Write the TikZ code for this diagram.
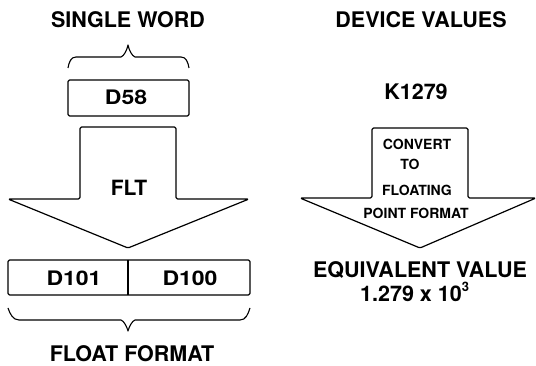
\documentclass[tikz,border=0pt]{standalone}
\usepackage{fontspec}
\setmainfont{TeX Gyre Heros}
\newfontfamily\widefont[FakeStretch=1.15]{TeX Gyre Heros}
\begin{document}
\begin{tikzpicture}[x=1pt,y=-1pt,
  outline/.style={draw=black,line width=1.2pt,line join=round,rounded corners=1.5pt},
  bracepath/.style={draw=black,line width=1.1pt,line join=round},
  head/.style={anchor=base,inner sep=0pt,font=\fontsize{21.5}{21.5}\selectfont\bfseries},
  smalltxt/.style={anchor=base,inner sep=0pt,font=\fontsize{14}{14}\selectfont\bfseries},
  celltxt/.style={anchor=base,inner sep=0pt,font=\widefont\fontsize{20}{20}\selectfont\bfseries}]
\useasboundingbox (0,0) rectangle (536,366);

% ---------- left side ----------
\node[head] (singleword) at (128,28) {SINGLE WORD};
\draw[bracepath] (68,68) .. controls (69,62) and (71,57) .. (76,57) -- (121,57)
  .. controls (124,56) and (127,50) .. (128,45)
  .. controls (129,50) and (132,56) .. (135,57) -- (181,57)
  .. controls (186,57) and (188,62) .. (189,68);
\draw[outline] (68,80) rectangle (189,116);
\node[celltxt] (d58) at (126,105) {D58};

\draw[outline] (80,199) -- (80,127) -- (176,127) -- (176,199) -- (249,199)
  -- (128,248) -- (8,199) -- cycle;
\node[head,font=\fontsize{21}{21}\selectfont\bfseries] (flt) at (129,196) {FLT};

\draw[outline] (8,260) rectangle (250,295);
\draw[line width=1.2pt] (128,260) -- (128,295);
\node[celltxt] (d101) at (74,286) {D101};
\node[celltxt] (d100) at (190,286) {D100};

\draw[bracepath] (8,308) .. controls (10,314) and (13,320) .. (19,320) -- (121,320)
  .. controls (124,321) and (127,327) .. (128,331)
  .. controls (129,327) and (132,321) .. (135,320) -- (240,320)
  .. controls (246,320) and (248,314) .. (250,308);
\node[head] (floatformat) at (132,362) {FLOAT FORMAT};

% ---------- right side ----------
\node[head] (devicevalues) at (421,28) {DEVICE VALUES};
\node[head] (k1279) at (416,100) {K1279};

\draw[outline] (372,198) -- (372,128) -- (468,128) -- (468,198) -- (536,198)
  -- (420,248) -- (300,198) -- cycle;
\node[smalltxt] (convert) at (417,150) {CONVERT};
\node[smalltxt] (to) at (410,170) {TO};
\node[smalltxt] (floating) at (417,196) {FLOATING};
\node[smalltxt] (pointformat) at (416,218.5) {POINT FORMAT};

\node[head] (equiv) at (420,278) {EQUIVALENT VALUE};
\node[head,anchor=base west] (value) at (360,302) {1.279 x 10\raisebox{10pt}{\fontsize{13}{13}\selectfont 3}};
\end{tikzpicture}
\end{document}
